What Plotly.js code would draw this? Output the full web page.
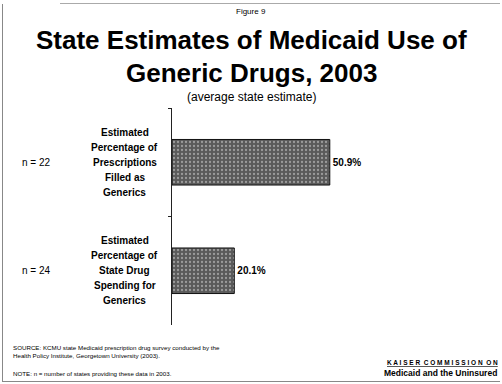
<!DOCTYPE html>
<html><head><meta charset="utf-8">
<script src="https://cdn.plot.ly/plotly-3.0.1.min.js"></script>
<style>
html,body{margin:0;padding:0;background:#fff;}
#frame{position:absolute;left:0;top:0;width:502px;height:384px;}
#chart{position:absolute;left:0;top:0;width:502px;height:384px;}
#bl{position:absolute;left:2px;top:4px;width:1px;height:378px;background:#888;}
#bb{position:absolute;left:2px;top:381px;width:498px;height:1px;background:#888;}
#bt{position:absolute;left:60px;top:3px;width:440px;height:1px;background:#aaa;}
</style></head>
<body>
<div id="frame"><div id="chart"></div><div id="bl"></div><div id="bb"></div><div id="bt"></div></div>
<script>
const categories = [
  "Estimated<br>Percentage of<br>Prescriptions<br>Filled as<br>Generics",
  "Estimated<br>Percentage of<br>State Drug<br>Spending for<br>Generics"
];
const values = [50.9, 20.1];
const nLabels = ["n = 22", "n = 24"];
const valueLabels = values.map(v => v.toFixed(1) + "%");

const font = "Arial, 'Liberation Sans', sans-serif";

const trace = {
  type: "bar",
  orientation: "h",
  y: categories,
  x: values,
  width: 0.42,
  marker: {color: "#5a5a5a", line: {color: "#111", width: 1},
    pattern: {shape: ".", bgcolor: "#5a5a5a", fgcolor: "#9c9c9c", size: 4, solidity: 0.25, fillmode: "replace"}},
  text: valueLabels,
  textposition: "outside",
  cliponaxis: false,
  textfont: {family: font, size: 10, color: "#000", weight: "bold"},
  hoverinfo: "skip"
};

const annotations = [];
categories.forEach((c, i) => {
  const lines = c.split("<br>");
  lines.forEach((ln, k) => {
    annotations.push({xref: "paper", yref: "y", x: -0.152, y: c, text: ln, showarrow: false,
      xanchor: "center", yanchor: "middle", yshift: -(k - (lines.length - 1) / 2) * 15,
      font: {family: font, size: 10, color: "#000", weight: "bold"}});
  });
  annotations.push({xref: "paper", yref: "y", x: -0.49, y: c, text: nLabels[i], showarrow: false,
    xanchor: "left", yanchor: "middle",
    font: {family: font, size: 10, color: "#000"}});
});
const ann = (x, y, text, size, opts) => Object.assign({xref: "paper", yref: "paper", x: x, y: y,
  text: text, showarrow: false, font: {family: font, size: size, color: "#000"}}, opts || {});
// paper coords: plot x from 172 to 482 (310px), y from 108 to 325 (217px)
const px = X => (X - 172) / 310;
const py = Y => (325 - Y) / 217;
annotations.push(ann(px(251), py(11), "Figure 9", 8, {xanchor: "center", yanchor: "middle"}));
annotations.push(ann(px(251), py(40), "<b>State Estimates of Medicaid Use of</b>", 26, {xanchor: "center", yanchor: "middle"}));
annotations.push(ann(px(251), py(73), "<b>Generic Drugs, 2003</b>", 26, {xanchor: "center", yanchor: "middle"}));
annotations.push(ann(px(251), py(97), "(average state estimate)", 12, {xanchor: "center", yanchor: "middle"}));
annotations.push(ann(px(11), py(342), "SOURCE: KCMU state Medicaid prescription drug survey conducted by the<br>Health Policy Institute, Georgetown University (2003).", 6.2,
  {xanchor: "left", yanchor: "top", align: "left"}));
annotations.push(ann(px(11), py(373), "NOTE: n = number of states providing these data in 2003.", 6.2,
  {xanchor: "left", yanchor: "middle", align: "left"}));
annotations.push(ann(px(442), py(362), "<u>K A I S E R  C O M M I S S I O N  O N</u>", 6.5, {xanchor: "center", yanchor: "middle",
  font: {family: font, size: 6.5, color: "#000", weight: "bold"}}));
annotations.push(ann(px(440), py(373), "<b>Medicaid and the Uninsured</b>", 8.5, {xanchor: "center", yanchor: "middle",
  font: {family: font, size: 8.5, color: "#000", weight: "bold"}}));

const layout = {
  width: 502, height: 384,
  margin: {l: 172, r: 20, t: 108, b: 59},
  paper_bgcolor: "rgba(0,0,0,0)", plot_bgcolor: "rgba(0,0,0,0)",
  showlegend: false,
  xaxis: {range: [0, 100], visible: false, fixedrange: true},
  yaxis: {type: "category", autorange: "reversed", showline: true, linecolor: "#222", linewidth: 1,
    ticks: "outside", ticklen: 3, tickcolor: "#222", tickson: "boundaries",
    showticklabels: false, showgrid: false, zeroline: false, fixedrange: true},
  annotations: annotations
};
Plotly.newPlot("chart", [trace], layout, {displayModeBar: false, staticPlot: true});
</script>
</body></html>
